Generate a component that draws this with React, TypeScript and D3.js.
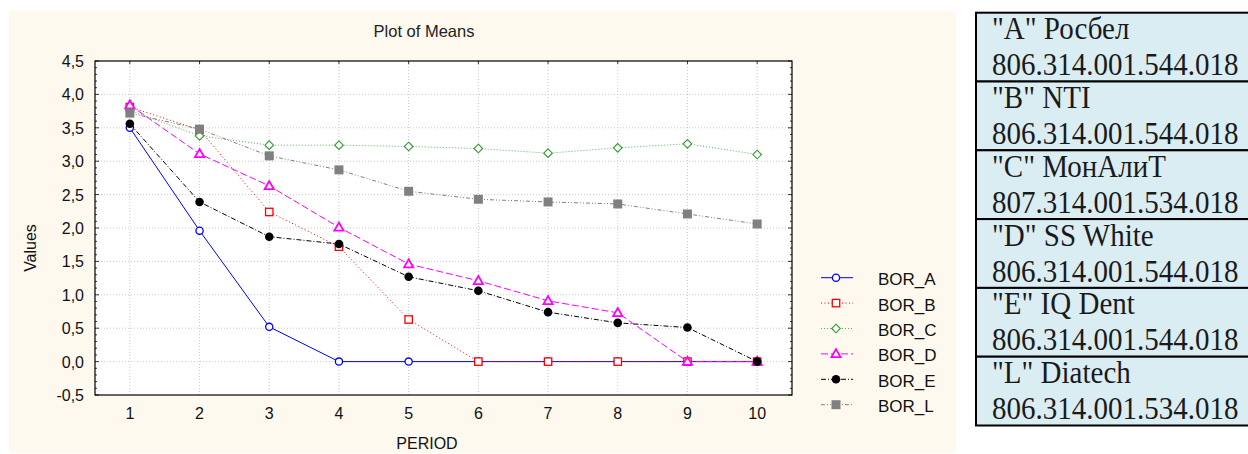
import React, { useEffect, useRef } from "react";
import * as d3 from "d3";

const periods = [1, 2, 3, 4, 5, 6, 7, 8, 9, 10];
const borA = [3.5, 1.96, 0.52, 0, 0, 0, 0, 0, 0, 0];
const borB = [3.81, 3.47, 2.24, 1.72, 0.63, 0, 0, 0, 0, 0];
const borC = [3.76, 3.38, 3.24, 3.24, 3.22, 3.19, 3.12, 3.2, 3.26, 3.1];
const borD = [3.84, 3.11, 2.63, 2.01, 1.46, 1.21, 0.91, 0.73, 0, 0];
const borE = [3.56, 2.39, 1.87, 1.76, 1.27, 1.06, 0.74, 0.58, 0.51, 0];
const borL = [3.72, 3.48, 3.08, 2.87, 2.55, 2.43, 2.39, 2.36, 2.21, 2.06];

const seriesNames = ["BOR_A", "BOR_B", "BOR_C", "BOR_D", "BOR_E", "BOR_L"];
const yTicks = [-0.5, 0, 0.5, 1, 1.5, 2, 2.5, 3, 3.5, 4, 4.5];

const tableNames = ['"A" Росбел', '"B" NTI', '"C" МонАлиТ', '"D" SS White', '"E" IQ Dent', '"L" Diatech'];
const tableCodes = [
  "806.314.001.544.018",
  "806.314.001.544.018",
  "807.314.001.534.018",
  "806.314.001.544.018",
  "806.314.001.544.018",
  "806.314.001.534.018",
];

// look of each series: colour, dash, marker
const styles = [
  { color: "#0000ff", dash: null, marker: "circleOpen", lw: 1 },
  { color: "#ff0000", dash: "1,2.5", marker: "squareOpen", lw: 1 },
  { color: "#2e9a2e", dash: "1,2", marker: "diamondOpen", lw: 0.8 },
  { color: "#ff00ff", dash: "7,3", marker: "triangleOpen", lw: 1 },
  { color: "#000000", dash: "5,2,1,2", marker: "circleFill", lw: 1 },
  { color: "#808080", dash: "4,2,1,2,1,2", marker: "squareFill", lw: 1 },
];

const sans = "'Liberation Sans', Arial, sans-serif";
const serif = "'Liberation Serif', 'Times New Roman', serif";

function drawMarker(g: any, kind: string, color: string, cx: number, cy: number) {
  if (kind === "circleOpen") {
    g.append("circle").attr("cx", cx).attr("cy", cy).attr("r", 3.6).attr("fill", "#fff").attr("stroke", color).attr("stroke-width", 1.3);
  } else if (kind === "circleFill") {
    g.append("circle").attr("cx", cx).attr("cy", cy).attr("r", 4.3).attr("fill", color);
  } else if (kind === "squareOpen") {
    g.append("rect").attr("x", cx - 3.7).attr("y", cy - 3.7).attr("width", 7.4).attr("height", 7.4).attr("fill", "#fff").attr("stroke", color).attr("stroke-width", 1.3);
  } else if (kind === "squareFill") {
    g.append("rect").attr("x", cx - 4.5).attr("y", cy - 4.5).attr("width", 9).attr("height", 9).attr("fill", color);
  } else if (kind === "diamondOpen") {
    g.append("path")
      .attr("d", `M${cx},${cy - 4.3}L${cx + 4.3},${cy}L${cx},${cy + 4.3}L${cx - 4.3},${cy}Z`)
      .attr("fill", "#fff").attr("stroke", color).attr("stroke-width", 1.1);
  } else if (kind === "triangleOpen") {
    g.append("path")
      .attr("d", `M${cx},${cy - 4.8}L${cx + 4.6},${cy + 3.3}L${cx - 4.6},${cy + 3.3}Z`)
      .attr("fill", "#fff").attr("stroke", color).attr("stroke-width", 1.8);
  }
}

export default function App() {
  const ref = useRef<SVGSVGElement>(null);

  useEffect(() => {
    const svg = d3.select(ref.current);
    svg.selectAll("*").remove();

    const allSeries = [borA, borB, borC, borD, borE, borL];
    const left = 95, right = 792, top = 61, bottom = 395;

    // chart panel
    svg.append("rect").attr("x", 9).attr("y", 11).attr("width", 947).attr("height", 442).attr("fill", "#fdf9ee");

    svg.append("text")
      .attr("x", 424).attr("y", 37)
      .attr("text-anchor", "middle")
      .attr("font-family", sans).attr("font-size", 16.5)
      .attr("fill", "#222")
      .text("Plot of Means");

    const x = d3.scaleLinear().domain([0.5, 10.5]).range([left, right]);
    const y = d3.scaleLinear().domain([-0.5, 4.5]).range([bottom, top]);

    svg.append("rect").attr("x", left).attr("y", top).attr("width", right - left).attr("height", bottom - top).attr("fill", "#fff");

    // grid
    const grid = svg.append("g").attr("stroke", "#c8c8c8").attr("stroke-dasharray", "1,2").attr("stroke-width", 1);
    yTicks.slice(1, -1).forEach((t) => {
      grid.append("line").attr("x1", left).attr("x2", right).attr("y1", y(t)).attr("y2", y(t));
    });
    periods.forEach((p) => {
      grid.append("line").attr("x1", x(p)).attr("x2", x(p)).attr("y1", top).attr("y2", bottom);
    });

    // frame + ticks
    const frame = svg.append("g").attr("stroke", "#000");
    frame.append("rect").attr("x", left).attr("y", top).attr("width", right - left).attr("height", bottom - top)
      .attr("fill", "none").attr("stroke-width", 1.2);
    const minor = d3.range(-0.5, 4.5001, 0.1);
    minor.forEach((t) => {
      const len = Math.abs(Math.round(t * 2) - t * 2) < 0.001 ? 4 : 2;
      frame.append("line").attr("x1", left).attr("x2", left + len).attr("y1", y(t)).attr("y2", y(t)).attr("stroke-width", 0.8);
      frame.append("line").attr("x1", right).attr("x2", right - len).attr("y1", y(t)).attr("y2", y(t)).attr("stroke-width", 0.8);
    });
    periods.forEach((p) => {
      frame.append("line").attr("x1", x(p)).attr("x2", x(p)).attr("y1", top).attr("y2", top + 3).attr("stroke-width", 0.8);
    });

    // tick labels
    svg.append("g").selectAll("text").data(yTicks).join("text")
      .attr("x", left - 11).attr("y", (d) => y(d) + 6)
      .attr("text-anchor", "end")
      .attr("font-family", sans).attr("font-size", 16)
      .attr("fill", "#111")
      .text((d) => d3.format(".1f")(d).replace(".", ",").replace("−", "-"));
    svg.append("g").selectAll("text").data(periods).join("text")
      .attr("x", (d) => x(d)).attr("y", 419)
      .attr("text-anchor", "middle")
      .attr("font-family", sans).attr("font-size", 16)
      .attr("fill", "#111")
      .text((d) => String(d));

    svg.append("text")
      .attr("x", 427).attr("y", 449)
      .attr("text-anchor", "middle")
      .attr("font-family", sans).attr("font-size", 16)
      .attr("fill", "#111")
      .text("PERIOD");
    svg.append("text")
      .attr("transform", `translate(36, 248) rotate(-90)`)
      .attr("text-anchor", "middle")
      .attr("font-family", sans).attr("font-size", 16)
      .attr("fill", "#111")
      .text("Values");

    // series
    const line = d3.line<number>().x((d, i) => x(periods[i])).y((d) => y(d));
    allSeries.forEach((vals, si) => {
      const st = styles[si];
      const g = svg.append("g");
      g.append("path").attr("d", line(vals)).attr("fill", "none")
        .attr("stroke", st.color).attr("stroke-width", st.lw)
        .attr("stroke-dasharray", st.dash);
      vals.forEach((v, i) => drawMarker(g, st.marker, st.color, x(periods[i]), y(v)));
    });

    // legend
    const lg = svg.append("g");
    seriesNames.forEach((name, i) => {
      const st = styles[i];
      const ly = 277.7 + i * 25.4;
      lg.append("line").attr("x1", 821).attr("x2", 853).attr("y1", ly).attr("y2", ly)
        .attr("stroke", st.color).attr("stroke-width", st.lw).attr("stroke-dasharray", st.dash);
      drawMarker(lg, st.marker, st.color, 836, ly);
      lg.append("text").attr("x", 878).attr("y", ly + 7.5)
        .attr("font-family", sans).attr("font-size", 17)
        .attr("fill", "#111")
        .text(name);
    });

    // side table
    const tb = svg.append("g");
    const rowH = 68.8, tTop = 12.7, tLeft = 976;
    tableNames.forEach((nm, i) => {
      const ry = tTop + i * rowH;
      tb.append("rect").attr("x", tLeft).attr("y", ry).attr("width", 290).attr("height", rowH)
        .attr("fill", "#daedf3").attr("stroke", "#000").attr("stroke-width", 2);
      tb.append("text").attr("transform", `translate(992, ${ry + 26.5}) scale(1, 1.1)`)
        .attr("font-family", serif).attr("font-size", 29)
        .attr("fill", "#1a1a1a").text(nm);
      tb.append("text").attr("transform", `translate(992, ${ry + 62.5}) scale(1, 1.1)`)
        .attr("font-family", serif).attr("font-size", 29)
        .attr("fill", "#1a1a1a").text(tableCodes[i]);
    });
  }, []);

  return (
    <svg ref={ref} width={1248} height={454} style={{ position: "absolute", left: 0, top: 0, background: "#fff" }} />
  );
}
